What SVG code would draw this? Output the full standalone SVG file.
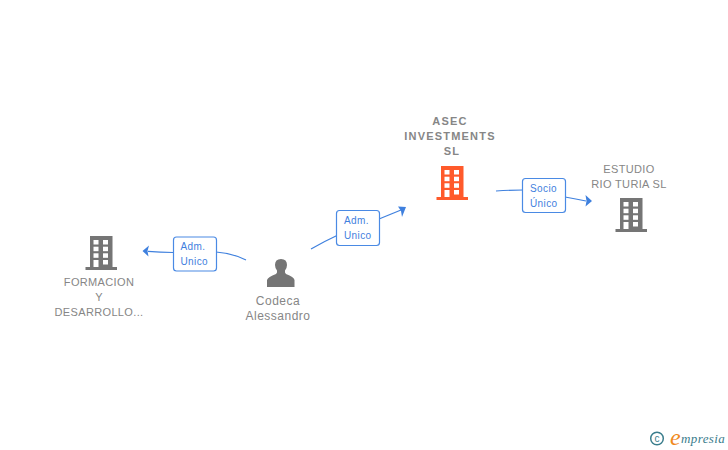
<svg xmlns="http://www.w3.org/2000/svg" width="728" height="450" viewBox="0 0 728 450">
<style>
text{font-family:"Liberation Sans",Arial,sans-serif}
.n{font-size:11px;fill:#868686;text-anchor:middle;letter-spacing:.35px}
.b{font-weight:bold;letter-spacing:1.2px}
.p{font-size:12px;fill:#868686;text-anchor:middle;letter-spacing:.5px}
.l{font-size:10px;fill:#3f80de;letter-spacing:.4px}
.box{fill:#fff;stroke:#4a8ae4;stroke-width:1.2}
.c{fill:none;stroke:#3f80de;stroke-width:1.2}
.h{fill:#3f80de}
.w{fill:#fff}
</style>
<defs>
<g id="bld">
<rect x="3" y="0" width="22.500" height="31"/>
<rect x="-1.500" y="31" width="31.500" height="3"/>
<g class="w">
<rect x="6.500" y="4" width="5" height="4.500"/><rect x="16" y="4" width="5" height="4.500"/>
<rect x="6.500" y="10.700" width="5" height="4.500"/><rect x="16" y="10.700" width="5" height="4.500"/>
<rect x="6.500" y="17.300" width="5" height="4.500"/><rect x="16" y="17.300" width="5" height="4.500"/>
<rect x="6.500" y="24" width="5" height="7"/><rect x="16" y="24" width="5" height="4.500"/>
</g>
</g>
</defs>
<g id="connectors">
<path class="c" d="M246 260Q232 253 216 252"/><path class="c" d="M173 252.500Q160 252 148 251.300"/>
<path class="h" d="M142.500 251L149 245.500L147.500 251L148.500 256.500Z"/>
<path class="c" d="M311 249Q325 241 338 235"/><path class="c" d="M379 219L401 210"/>
<path class="h" d="M406 207L398 206.500L401 211L402 217Z"/>
<path class="c" d="M496 191Q510 190 523 190"/><path class="c" d="M565 197Q576 199 586 201"/>
<path class="h" d="M592 201L585.500 195L586.500 201L585.500 206.500Z"/>
</g>
<g id="edge-label-1"><rect class="box" x="173.500" y="237" width="43" height="34" rx="3"/><text class="l" x="180.500" y="250">Adm.</text><text class="l" x="180.500" y="265">Unico</text></g>
<g id="edge-label-2"><rect class="box" x="336.500" y="210.500" width="43" height="35" rx="3"/><text class="l" x="344" y="224">Adm.</text><text class="l" x="344" y="239">Unico</text></g>
<g id="edge-label-3"><rect class="box" x="522.500" y="178.500" width="43" height="34" rx="3"/><text class="l" x="530" y="192">Socio</text><text class="l" x="530" y="207">Único</text></g>
<g id="node-formacion" fill="#757575">
<use href="#bld" x="87" y="236"/>
<text class="n" x="99" y="286">FORMACION</text><text class="n" x="99" y="301">Y</text><text class="n" x="99" y="316">DESARROLLO...</text>
</g>
<g id="node-codeca">
<path fill="#757575" d="M267 287V280Q268 277 276 274Q277.500 272.500 277 270.500Q275 268 275 265Q275 259 281 259Q287 259 287 265Q287 268 285 270.500Q284.500 272.500 286 274Q294 277 294.500 280V287Z"/>
<text class="p" x="278" y="305">Codeca</text><text class="p" x="278" y="320">Alessandro</text>
</g>
<g id="node-asec" fill="#ff5a2b">
<use href="#bld" x="438" y="166"/>
<text class="n b" x="450" y="125">ASEC</text><text class="n b" x="450" y="140">INVESTMENTS</text><text class="n b" x="452" y="155">SL</text>
</g>
<g id="node-estudio" fill="#757575">
<use href="#bld" x="617" y="198"/>
<text class="n" x="629" y="173">ESTUDIO</text><text class="n" x="629" y="188">RIO TURIA SL</text>
</g>
<g id="brand">
<circle cx="657" cy="438.500" r="6.300" fill="none" stroke="#3a7d8c" stroke-width="1.500"/>
<text x="657" y="442" font-size="10" fill="#3a7d8c" text-anchor="middle">c</text>
<text x="670" y="445" font-size="24" font-style="italic" fill="#f08a1d" style="font-family:'Liberation Serif',serif">e</text>
<text x="681" y="443" font-size="13" font-style="italic" fill="#3a7d8c" style="font-family:'Liberation Serif',serif" letter-spacing=".4">mpresia</text>
</g>
</svg>
